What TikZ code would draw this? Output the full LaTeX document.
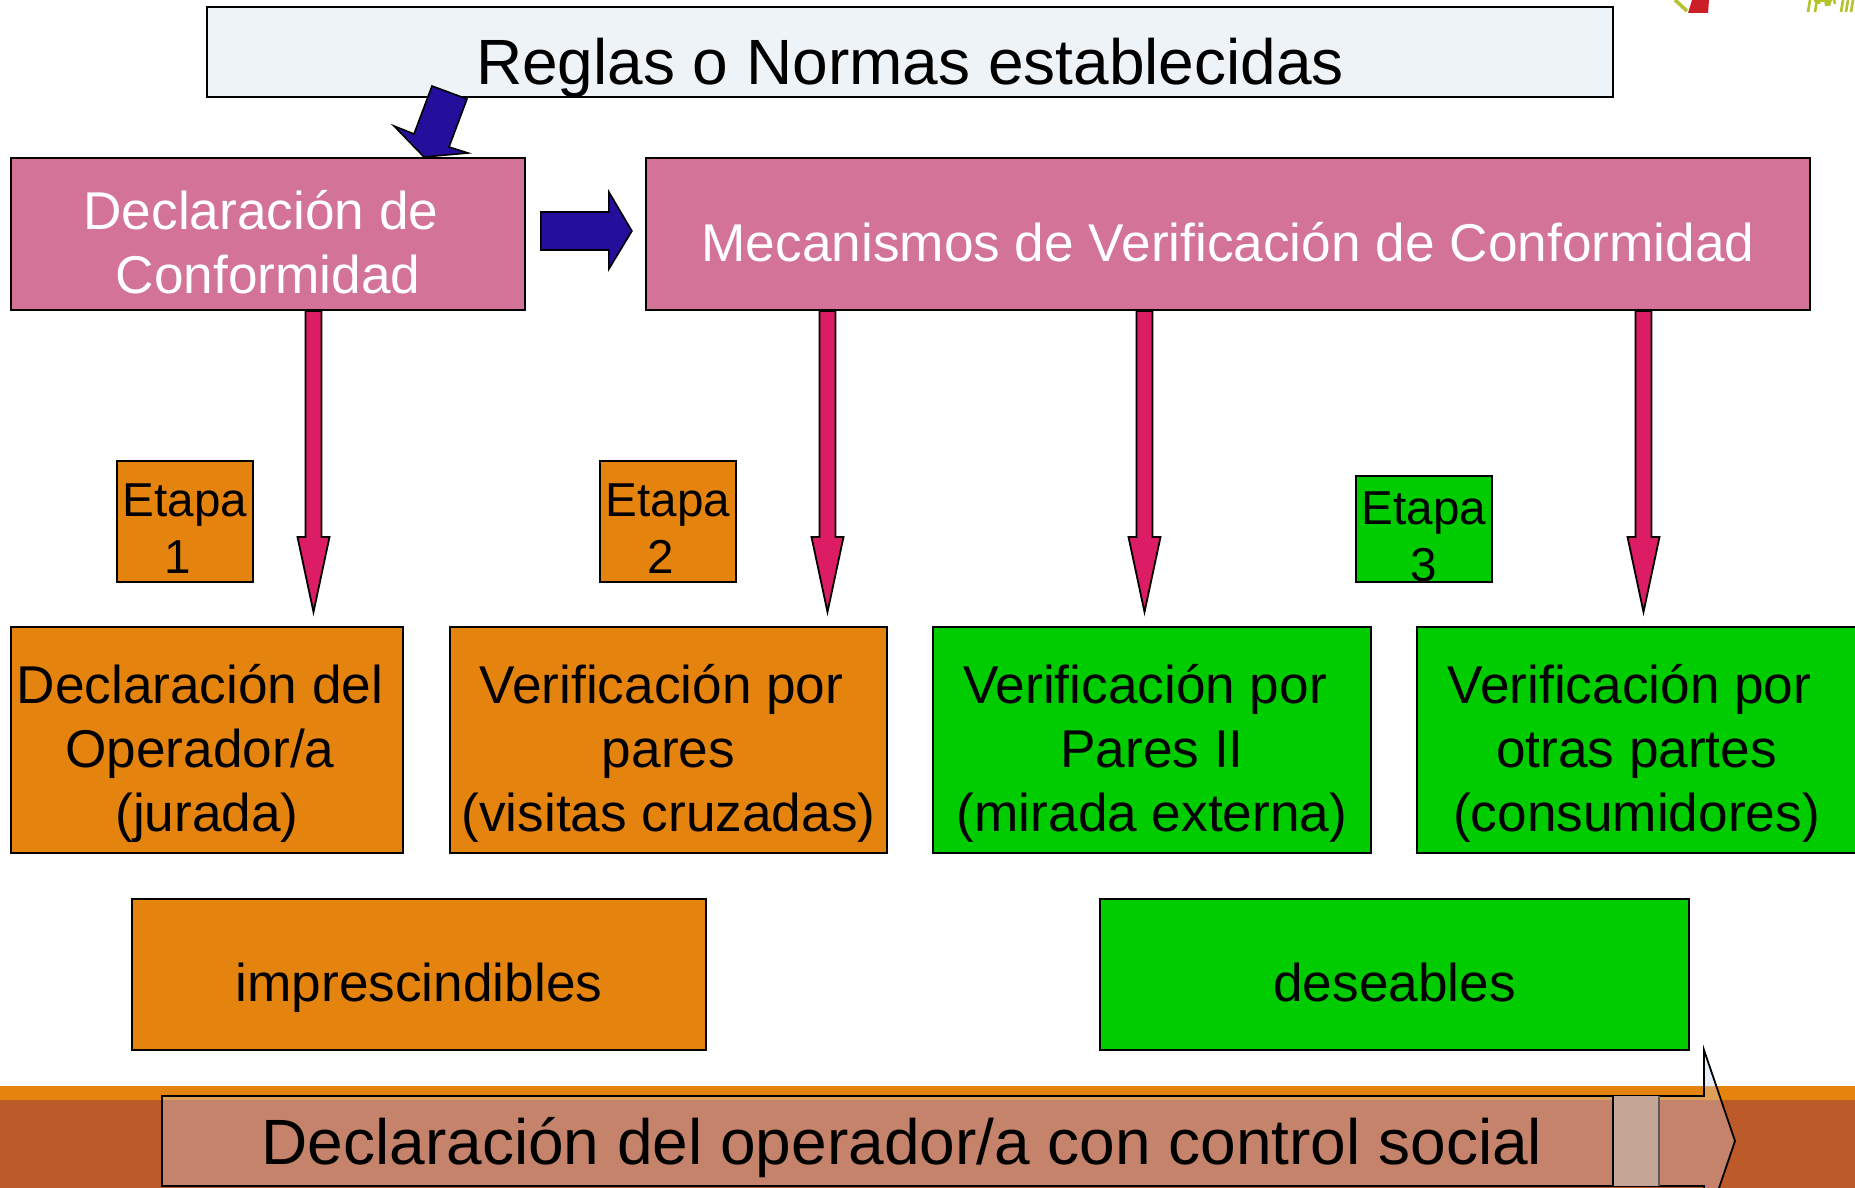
\documentclass[tikz,border=0pt]{standalone}
\usepackage{fontspec}
\setmainfont{Liberation Sans}
\usetikzlibrary{calc}
\definecolor{pinkbox}{HTML}{D27397}
\definecolor{orangebox}{HTML}{E5830F}
\definecolor{greenbox}{HTML}{00CC00}
\definecolor{paleblue}{HTML}{EEF3F7}
\definecolor{bluearrow}{HTML}{230F9B}
\definecolor{redarrow}{HTML}{DC1C64}
\definecolor{brownband}{HTML}{BC5A2A}
\definecolor{logored}{HTML}{CB1F27}
\definecolor{logogreen}{HTML}{B5C32A}
\definecolor{arrowtint}{HTML}{D7E3FF}
\definecolor{strip}{HTML}{C4A596}
\tikzset{
  boxbase/.style={draw=black,line width=1.8pt,inner sep=0pt,anchor=center},
  pinkstyle/.style={boxbase,fill=pinkbox,text=white},
  orangestyle/.style={boxbase,fill=orangebox},
  greenstyle/.style={boxbase,fill=greenbox},
  palestyle/.style={boxbase,fill=paleblue},
  bluearr/.style={draw=black,line width=1.6pt,fill=bluearrow,line join=miter},
  redarr/.style={draw=black,line width=1.8pt,fill=redarrow,line join=miter},
  big/.style={font=\fontsize{64}{74}\selectfont},
  mid/.style={font=\fontsize{53.2}{64}\selectfont},
  sma/.style={font=\fontsize{47.6}{57}\selectfont},
}
\newcommand{\bx}[7][]{\node[#2,#1,minimum width={(#5-#3)*1pt},minimum height={(#6-#4)*1pt}] (#7) at ({(#3+#5)/2},{(#4+#6)/2})}
\newcommand{\tl}[2]{\raisebox{\dimexpr#1pt-.25em\relax}[0pt][0pt]{\begin{tabular}{@{}c@{}}#2\end{tabular}}}
\newcommand{\redarrow}[2]{%
  \draw[redarr] ($(#1)+(-8,0)$) -- ($(#2)+(-8,-75)$) -- ($(#2)+(-16,-75)$) -- (#2) -- ($(#2)+(16,-75)$) -- ($(#2)+(8,-75)$) -- ($(#1)+(8,0)$) -- cycle;}
\begin{document}
\begin{tikzpicture}[x=1pt,y=-1pt]
\useasboundingbox (0,0) rectangle (1855,1188);
\begin{scope}
\clip (0,0) rectangle (1855,1188);
% background band
\fill[orangebox] (0,1086) rectangle (1855,1100);
\fill[brownband] (0,1100) rectangle (1855,1188);
% logo fragments
\fill[logored] (1692,0) -- (1709,0) -- (1708,13) -- (1688,13) -- cycle;
\draw[line width=3.5pt,logogreen] (1675,0) -- (1687,11);
\foreach \xx in {1810,1817,1843,1848,1853}{\draw[line width=2.6pt,logogreen] (\xx,0) -- (\xx-2,12);}
\draw[line width=2pt,logogreen] (1814,1) -- (1824,1);
\draw[line width=2.4pt,logogreen] (1819,4) arc[start angle=180,end angle=360,radius=8];
\fill[logogreen] (1824,0) -- (1832,0) -- (1830,6) -- (1825,6) -- cycle;
% bottom arrow
\fill[paleblue] (1704,1050) -- (1704,1086) -- (1716,1086) -- cycle;
\draw[fill=arrowtint,fill opacity=.3,draw=black,line width=1.8pt] (162,1096) -- (1704,1096) -- (1704,1050) -- (1735,1141) -- (1704,1232) -- (1704,1186) -- (162,1186) -- cycle;
\fill[strip] (1613,1096) rectangle (1659,1186);
\draw[black,line width=1.6pt] (1613,1096) -- (1613,1186);
\draw[black!65,line width=1.6pt] (1659,1096) -- (1659,1186);
\end{scope}
\node[big,anchor=center] (lastlabel) at (902,1148) {Declaración del operador/a con control social};
% top boxes
\bx[big]{palestyle}{207}{7}{1613}{97}{reglas} {\tl{-8}{Reglas o Normas establecidas}};
\bx[mid]{pinkstyle}{11}{158}{525}{310}{decl} {\tl{-8}{\hspace*{-14pt}Declaración de\\Conformidad}};
\bx[mid]{pinkstyle}{646}{158}{1810}{310}{meca} {\tl{-7.5}{Mecanismos de Verificación de Conformidad}};
% etapas
\bx[sma]{orangestyle}{117}{461}{253}{582}{et1} {\tl{-6}{Etapa\\\hspace*{-14pt}1}};
\bx[sma]{orangestyle}{600}{461}{736}{582}{et2} {\tl{-6}{Etapa\\\hspace*{-14pt}2}};
\bx[sma]{greenstyle}{1356}{476}{1492}{582}{et3} {\tl{-7}{Etapa\\3}};
% row
\bx[mid]{orangestyle}{11}{627}{403}{853}{r1} {\tl{-8}{\hspace*{-14pt}Declaración del\\\hspace*{-14pt}Operador/a\\(jurada)}};
\bx[mid]{orangestyle}{450}{627}{887}{853}{r2} {\tl{-8}{\hspace*{-14pt}Verificación por\\pares\\(visitas cruzadas)}};
\bx[mid]{greenstyle}{933}{627}{1371}{853}{r3} {\tl{-8}{\hspace*{-14pt}Verificación por\\Pares II\\(mirada externa)}};
\bx[mid]{greenstyle}{1417}{627}{1856}{853}{r4} {\tl{-8}{\hspace*{-14pt}Verificación por\\otras partes\\(consumidores)}};
\bx[mid]{orangestyle}{132}{899}{706}{1050}{imp} {\tl{-7.5}{imprescindibles}};
\bx[mid]{greenstyle}{1100}{899}{1689}{1050}{des} {\tl{-7.5}{deseables}};
% blue arrows
\coordinate (b1) at (432,86);
\draw[bluearr] (b1) -- ++(35,13) -- ++(-18,48) -- ++(19,6) -- ++(-44,4) -- ++(-30,-31) -- ++(20,8) -- cycle;
\coordinate (b2) at ($(decl.east)+(15,-11)$);
\draw[bluearr] (b2) ++(0,-11) -- ++(68,0) -- ++(0,-20) -- ++(23,39) -- ++(-23,38) -- ++(0,-19) -- ++(-68,0) -- cycle;
% red arrows
\coordinate (t1) at (313.5,612);
\coordinate (t2) at (827.5,612);
\coordinate (t3) at (1144.5,612);
\coordinate (t4) at (1643.5,612);
\coordinate (s1) at (decl.south -| t1);
\coordinate (s2) at (meca.south -| t2);
\coordinate (s3) at (meca.south -| t3);
\coordinate (s4) at (meca.south -| t4);
\redarrow{s1}{t1}
\redarrow{s2}{t2}
\redarrow{s3}{t3}
\redarrow{s4}{t4}
\end{tikzpicture}
\end{document}
